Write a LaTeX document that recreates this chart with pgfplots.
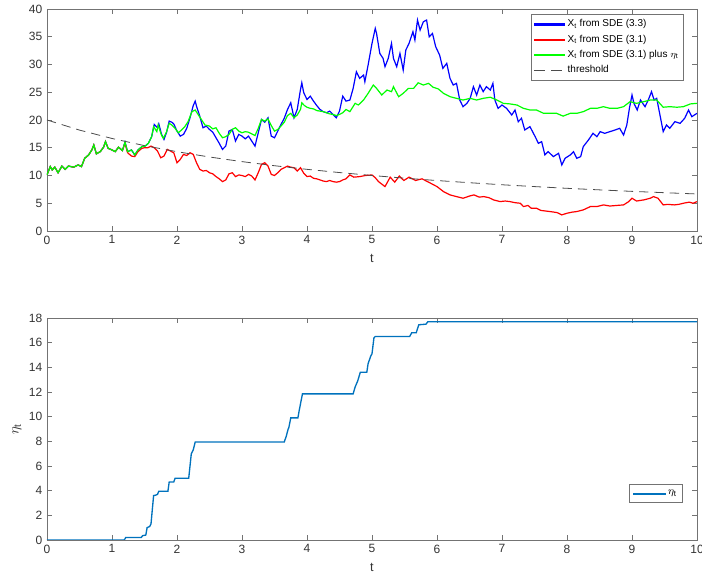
\documentclass[border=0pt]{standalone}
\usepackage{fontspec}
\setmainfont{Liberation Sans}
\usepackage{pgfplots}
\pgfplotsset{compat=1.18}
\definecolor{mblue}{rgb}{0,0.447,0.741}
\definecolor{axgray}{gray}{0.45}
\definecolor{lblgray}{gray}{0.2}
\pgfplotsset{
  mlstyle/.style={
    scale only axis,
    width=487.5pt, height=166.5pt,
    xmin=0, xmax=10,
    xtick={0,1,...,10},
    axis line style={axgray, line width=0.5pt},
    tick style={axgray, line width=0.5pt},
    major tick length=3.5pt,
    tick align=inside,
    every tick label/.append style={font=\fontsize{9}{10}\selectfont, text=lblgray},
    /pgf/number format/assume math mode=true,
    xlabel={t},
    xlabel style={font=\fontsize{9.5}{11}\selectfont, text=lblgray, at={(axis description cs:0.5,0)}, anchor=center, yshift=-20.25pt},
    legend cell align=left,
  },
  barlegend/.style={legend image code/.code={\fill[#1] (0pt,-0.45pt) rectangle (23pt,0.45pt);}},
}
\begin{document}
\begin{tikzpicture}
\begin{axis}[mlstyle,
  at={(0,231.75pt)}, anchor=south west,
  ymin=0, ymax=40, ytick={0,5,...,40},
  legend style={at={(1,1)}, anchor=north east, xshift=-9.75pt, yshift=-3.75pt,
    draw=axgray, font=\fontsize{7.5}{9}\selectfont, row sep=0.5pt, inner sep=2pt},
]
% blue: X_t from SDE (3.3)
\addplot[blue, line width=0.9pt, forget plot] coordinates {
(0,10.1)(0.05,11.6)(0.08,11.0)(0.12,11.5)(0.17,10.5)(0.23,11.7)(0.28,11.1)(0.33,11.7)(0.41,11.5)(0.48,11.9)(0.53,11.6)(0.58,13.1)(0.64,13.7)(0.69,14.6)(0.72,15.5)(0.76,13.9)(0.82,14.3)(0.87,15.1)(0.90,16.1)(0.94,14.9)(1.00,14.6)(1.05,14.3)(1.10,15.1)(1.16,14.5)(1.20,16.0)(1.24,14.3)(1.30,14.6)(1.35,13.7)(1.40,14.6)(1.46,15.2)(1.51,15.3)(1.56,15.8)
(1.61,17.0)(1.65,19.2)(1.70,18.6)(1.72,19.3)(1.76,17.5)(1.80,16.5)(1.84,17.8)(1.88,19.8)(1.92,19.6)(1.95,19.3)(2.00,18.0)(2.05,17.1)(2.10,17.4)(2.15,18.5)(2.20,20.4)(2.25,22.6)(2.28,23.4)(2.30,22.5)(2.35,20.7)(2.40,18.6)(2.45,18.9)(2.50,18.3)(2.55,17.8)(2.60,16.8)(2.65,15.8)(2.70,14.7)(2.75,15.3)(2.80,18.0)(2.85,18.3)(2.90,16.2)(2.95,17.4)(3.00,17.1)(3.05,16.6)(3.10,17.1)(3.15,16.2)(3.20,15.3)(3.25,17.7)(3.30,20.1)(3.35,19.6)(3.40,20.4)(3.45,17.1)(3.50,16.8)(3.55,18.0)(3.60,19.2)(3.65,20.3)(3.70,21.9)(3.75,23.1)(3.80,20.4)(3.85,21.9)(3.90,25.5)(3.92,26.7)(3.95,24.9)(4.00,23.7)(4.05,24.3)(4.10,23.4)(4.15,22.6)(4.20,21.9)(4.25,21.5)(4.30,21.3)(4.35,21.6)(4.40,21.0)(4.45,20.4)(4.50,21.6)(4.55,24.3)(4.60,23.4)(4.66,23.6)(4.71,25.7)(4.76,28.7)(4.81,27.5)(4.87,28.1)(4.89,26.9)(4.94,29.9)(5.00,33.8)(5.05,36.5)(5.07,35.6)(5.12,32.0)(5.17,31.1)(5.20,29.6)(5.25,31.1)(5.30,33.8)(5.33,31.1)(5.38,29.6)(5.43,32.0)(5.48,29.0)(5.52,32.6)(5.57,33.8)(5.63,35.9)(5.66,34.4)(5.70,38.0)(5.74,36.2)(5.79,37.7)(5.84,38.0)(5.88,35.0)(5.93,35.6)(5.98,33.2)(6.04,31.7)(6.09,29.3)(6.15,30.2)(6.20,27.5)(6.25,26.3)(6.30,26.6)(6.35,23.6)(6.40,22.4)(6.46,23.0)(6.51,23.9)(6.56,26.0)(6.61,24.5)(6.66,26.3)(6.71,25.1)(6.76,26.0)(6.82,25.4)(6.86,26.6)(6.89,23.6)(6.94,22.1)(7.00,22.7)(7.07,22.1)(7.15,20.9)(7.20,21.8)(7.25,19.7)(7.30,20.3)(7.35,18.2)(7.43,18.8)(7.51,17.0)(7.56,15.8)(7.61,16.1)(7.66,13.7)(7.71,14.3)(7.79,13.4)(7.87,14.0)(7.92,11.9)(7.97,13.1)(8.05,13.7)(8.10,14.3)(8.15,13.1)(8.21,13.4)(8.25,15.2)(8.33,16.4)(8.40,17.6)(8.46,17.0)(8.51,17.9)(8.58,17.6)(8.66,17.9)(8.74,18.2)(8.81,18.5)(8.87,17.3)(8.92,19.1)(8.96,22.1)(9.00,24.5)(9.03,23.0)(9.08,21.8)(9.13,23.6)(9.20,22.4)(9.25,23.6)(9.30,25.1)(9.34,23.6)(9.38,23.9)(9.43,20.9)(9.48,17.9)(9.53,19.1)(9.58,18.5)(9.66,19.7)(9.74,19.4)(9.81,20.3)(9.87,21.8)(9.92,20.6)(10.0,21.2)
};
% red: X_t from SDE (3.1)
\addplot[red, line width=0.9pt, forget plot] coordinates {
(0,10.1)(0.05,11.6)(0.08,11.0)(0.12,11.5)(0.17,10.5)(0.23,11.7)(0.28,11.1)(0.33,11.7)(0.41,11.5)(0.48,11.9)(0.53,11.6)(0.58,13.1)(0.64,13.7)(0.69,14.6)(0.72,15.5)(0.76,13.9)(0.82,14.3)(0.87,15.1)(0.90,16.1)(0.94,14.9)(1.00,14.6)(1.05,14.3)(1.10,15.1)(1.16,14.5)(1.20,15.8)
(1.24,14.1)(1.30,13.5)(1.35,13.4)(1.40,14.3)(1.46,14.9)(1.50,15.0)(1.55,15.0)(1.60,15.3)(1.65,15.0)(1.70,14.4)(1.75,13.2)(1.80,13.5)(1.85,14.7)(1.90,14.4)(1.95,14.1)(2.00,12.3)(2.05,12.9)(2.10,13.8)(2.15,13.6)(2.20,14.1)(2.25,13.8)(2.30,12.3)(2.35,11.1)(2.40,10.8)(2.45,10.9)(2.50,10.5)(2.55,10.3)(2.60,9.8)(2.65,9.4)(2.70,8.9)(2.75,9.2)(2.80,10.3)(2.85,10.5)(2.90,9.8)(2.95,10.1)(3.00,10.0)(3.05,9.8)(3.10,10.2)(3.15,9.9)(3.20,9.2)(3.25,10.5)(3.30,12.0)(3.35,12.3)(3.40,11.7)(3.45,10.2)(3.50,10.0)(3.55,10.5)(3.60,11.1)(3.65,11.4)(3.70,11.7)(3.75,11.5)(3.80,11.4)(3.85,10.8)(3.90,11.4)(3.95,10.4)(4.00,9.8)(4.05,9.9)(4.10,9.5)(4.15,9.4)(4.20,9.2)(4.25,9.0)(4.30,8.9)(4.35,9.1)(4.40,8.9)(4.45,8.8)(4.50,8.9)(4.55,9.2)(4.60,9.4)(4.66,10.1)(4.72,9.7)(4.81,9.8)(4.90,10.0)(5.00,10.1)(5.05,9.6)(5.10,8.9)(5.20,8.0)(5.28,9.7)(5.35,8.8)(5.42,9.9)(5.49,9.1)(5.57,9.7)(5.67,9.1)(5.77,9.4)(5.87,8.8)(6.00,8.0)(6.10,7.1)(6.20,6.5)(6.30,6.2)(6.40,5.9)(6.50,6.3)(6.57,6.5)(6.65,6.1)(6.72,6.2)(6.80,6.0)(6.87,5.6)(6.97,5.3)(7.05,5.4)(7.12,5.3)(7.20,5.1)(7.28,5.0)(7.33,4.4)(7.40,4.6)(7.45,4.1)(7.53,4.1)(7.60,3.7)(7.67,3.6)(7.74,3.5)(7.80,3.4)(7.85,3.3)(7.92,2.9)(8.00,3.2)(8.08,3.4)(8.15,3.5)(8.25,3.8)(8.36,4.4)(8.46,4.4)(8.56,4.7)(8.66,4.5)(8.76,4.6)(8.87,4.7)(8.95,5.3)(9.00,5.9)(9.07,5.4)(9.18,5.6)(9.28,5.9)(9.33,6.2)(9.40,5.9)(9.48,4.7)(9.55,4.8)(9.65,4.7)(9.72,4.8)(9.79,5.0)(9.88,5.2)(9.94,5.0)(10.0,5.3)
};
% green: X_t from SDE (3.1) plus eta_t
\addplot[green, line width=0.9pt, forget plot] coordinates {
(0,10.1)(0.05,11.6)(0.08,11.0)(0.12,11.5)(0.17,10.5)(0.23,11.7)(0.28,11.1)(0.33,11.7)(0.41,11.5)(0.48,11.9)(0.53,11.6)(0.58,13.1)(0.64,13.7)(0.69,14.6)(0.72,15.5)(0.76,13.9)(0.82,14.3)(0.87,15.1)(0.90,16.1)(0.94,14.9)(1.00,14.6)(1.05,14.3)(1.10,15.1)(1.16,14.5)(1.20,16.0)(1.24,14.3)(1.30,14.6)(1.35,13.7)(1.40,14.6)(1.46,15.2)(1.51,15.3)(1.56,15.8)(1.61,17.0)(1.64,18.8)(1.69,17.9)(1.71,19.1)(1.76,17.3)(1.79,16.7)(1.84,17.9)(1.88,19.4)(1.92,19.1)(1.97,18.5)(2.02,17.7)(2.07,18.2)(2.12,18.8)(2.17,19.7)(2.23,21.5)(2.28,21.8)(2.33,20.9)(2.38,20.0)(2.43,19.1)(2.50,18.9)(2.55,18.4)(2.60,18.6)(2.65,17.6)(2.70,16.8)(2.75,17.0)(2.80,17.4)(2.85,18.3)(2.90,18.6)(2.95,18.0)(3.00,17.7)(3.05,17.9)(3.10,17.8)(3.15,17.5)(3.20,17.2)(3.25,18.5)(3.30,20.1)(3.35,19.8)(3.40,20.2)(3.45,19.0)(3.50,18.0)(3.55,18.3)(3.60,18.9)(3.65,19.6)(3.70,20.8)(3.75,21.2)(3.80,20.4)(3.85,20.9)(3.90,21.9)(3.92,23.1)(3.96,22.6)(4.00,22.3)(4.05,22.1)(4.10,22.0)(4.15,21.7)(4.20,21.6)(4.25,21.5)(4.30,21.3)(4.35,21.1)(4.40,21.0)(4.45,20.8)(4.50,21.0)(4.55,21.3)(4.60,21.9)(4.66,21.5)(4.74,23.0)(4.79,22.7)(4.87,23.6)(4.94,24.8)(5.02,26.3)(5.07,25.7)(5.15,24.5)(5.23,25.4)(5.30,25.1)(5.33,26.0)(5.41,24.2)(5.48,24.8)(5.56,25.7)(5.64,25.7)(5.71,26.7)(5.79,26.3)(5.87,26.6)(5.94,25.9)(6.02,25.6)(6.10,24.8)(6.20,24.2)(6.30,23.9)(6.40,23.6)(6.51,23.9)(6.61,23.6)(6.71,23.9)(6.82,24.1)(6.92,23.6)(7.02,23.0)(7.12,22.9)(7.23,22.7)(7.33,22.1)(7.43,21.8)(7.53,21.8)(7.64,21.2)(7.74,21.2)(7.84,21.2)(7.94,20.7)(8.05,21.2)(8.15,21.2)(8.25,21.5)(8.36,22.1)(8.46,22.1)(8.56,22.4)(8.66,22.1)(8.77,22.1)(8.87,22.4)(8.97,23.3)(9.07,23.0)(9.18,23.3)(9.28,23.6)(9.38,23.6)(9.48,22.3)(9.58,22.4)(9.69,22.3)(9.79,22.4)(9.90,22.9)(10.0,23.0)
};
% threshold
\addplot[black!70, line width=0.6pt, dash pattern=on 7pt off 4.5pt, forget plot] coordinates {
(0,20)(0.5,18.18)(1,16.67)(1.5,15.38)(2,14.29)(2.5,13.33)(3,12.5)(3.5,11.76)(4,11.11)(4.5,10.53)(5,10)(5.5,9.52)(6,9.09)(6.5,8.70)(7,8.33)(7.5,8.0)(8,7.69)(8.5,7.41)(9,7.14)(9.5,6.90)(10,6.67)
};
\addlegendimage{barlegend, blue}
\addlegendentry{X\textsubscript{t} from SDE (3.3)}
\addlegendimage{barlegend, red}
\addlegendentry{X\textsubscript{t} from SDE (3.1)}
\addlegendimage{barlegend, green}
\addlegendentry{X\textsubscript{t} from SDE (3.1) plus $\eta_{\mathrm{t}}$}
\addlegendimage{legend image code/.code={\draw[black!70, line width=0.6pt, dash pattern=on 8pt off 5pt] (0pt,0pt) -- (23pt,0pt);}}
\addlegendentry{threshold}
\end{axis}

\begin{axis}[mlstyle,
  at={(0,0)}, anchor=south west,
  ymin=0, ymax=18, ytick={0,2,...,18},
  ylabel={$\eta_{\mathrm{t}}$},
  ylabel style={at={(axis description cs:0,0.5)}, anchor=center, yshift=22.5pt, font=\fontsize{10.5}{12}\selectfont, text=lblgray},
  legend style={at={(1,0)}, anchor=south east, xshift=-10.5pt, yshift=27.75pt,
    draw=axgray, font=\fontsize{8}{9}\selectfont, inner sep=2.5pt},
]
\addplot[mblue, line width=1pt, forget plot] coordinates {
(0,0)(1.19,0)(1.21,0.2)(1.45,0.2)(1.47,0.35)(1.52,0.4)(1.54,1.0)(1.58,1.1)(1.60,1.3)(1.64,3.6)(1.68,3.65)(1.70,3.7)(1.72,3.95)(1.86,3.95)(1.88,4.7)(1.95,4.7)(1.97,5.0)(2.18,5.0)(2.22,7.0)(2.25,7.3)(2.28,7.95)(3.65,7.95)(3.68,8.4)(3.71,9.0)(3.72,9.1)(3.75,9.9)(3.86,9.9)(3.88,10.5)(3.93,11.85)(4.71,11.85)(4.74,12.4)(4.78,12.9)(4.82,13.6)(4.92,13.6)(4.94,14.3)(4.98,14.9)(5.0,15.1)(5.03,16.4)(5.05,16.5)(5.58,16.5)(5.61,16.8)(5.68,16.8)(5.72,17.45)(5.83,17.5)(5.86,17.7)(10,17.7)
};
\addlegendimage{legend image code/.code={\fill[mblue] (0pt,-0.5pt) rectangle (24pt,0.5pt);}}
\addlegendentry{$\eta_{\mathrm{t}}$}
\end{axis}
\pgfresetboundingbox
\path (-35.25pt,-27.75pt) rectangle (491.25pt,405pt);
\end{tikzpicture}
\end{document}
